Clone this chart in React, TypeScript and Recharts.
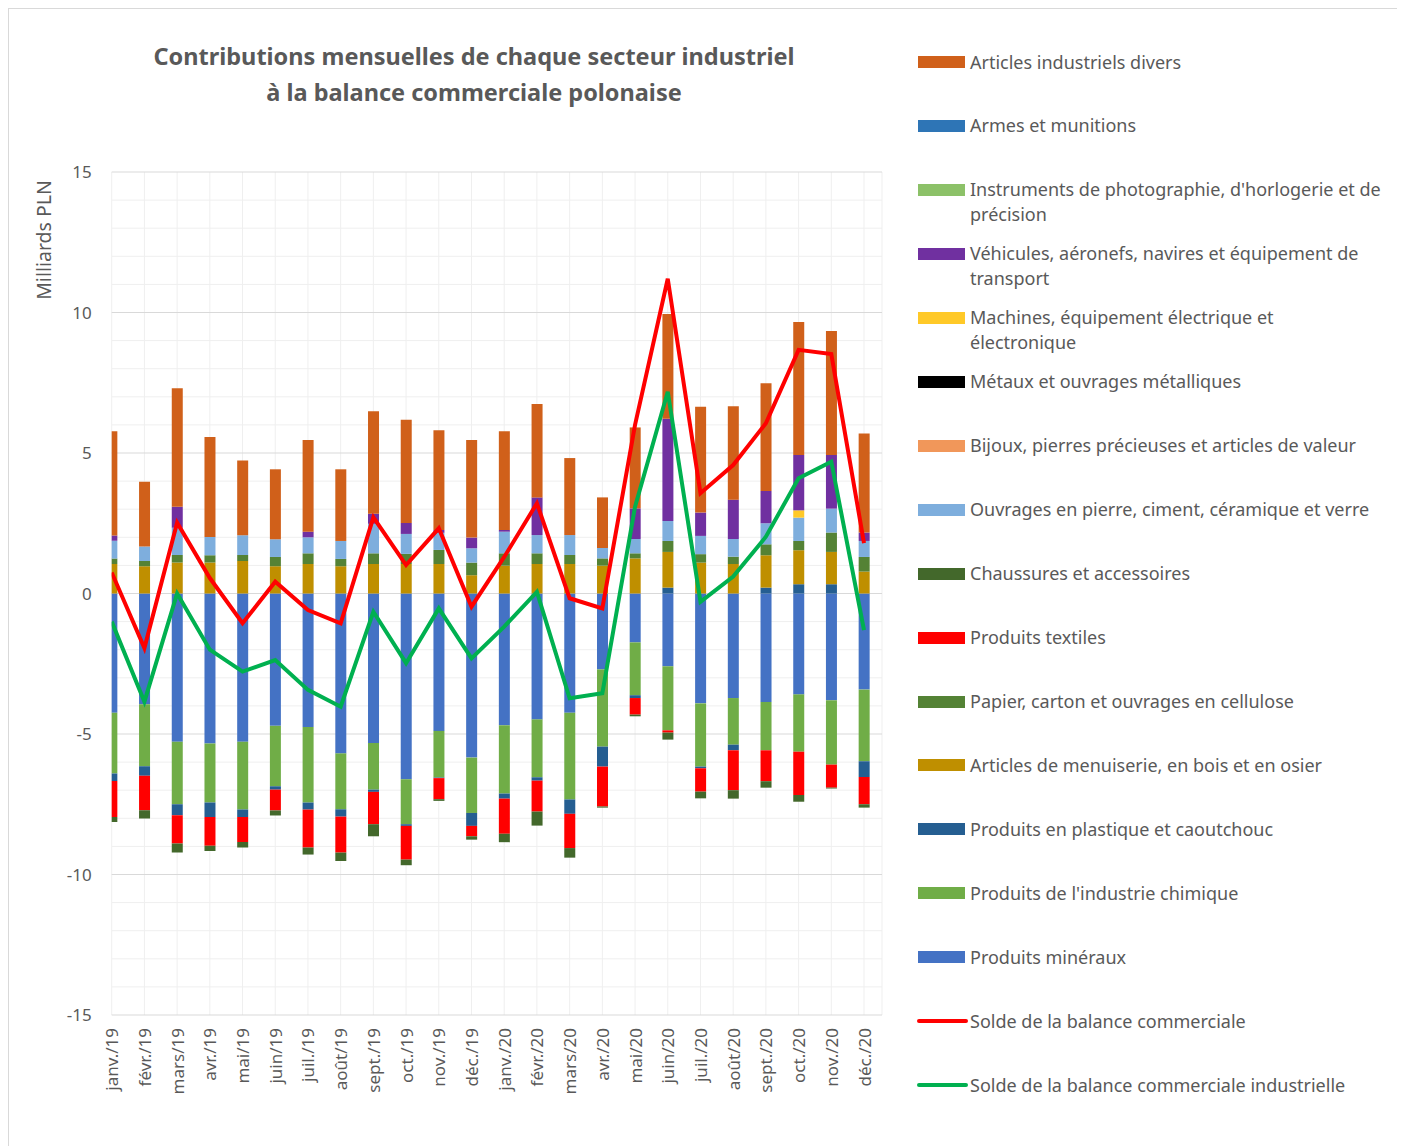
import React from 'react';
import { ComposedChart, Bar, Line, XAxis, YAxis, CartesianGrid } from 'recharts';

// Months shown on the category axis
const months = [
  'janv./19', 'févr./19', 'mars/19', 'avr./19', 'mai/19', 'juin/19',
  'juil./19', 'août/19', 'sept./19', 'oct./19', 'nov./19', 'déc./19',
  'janv./20', 'févr./20', 'mars/20', 'avr./20', 'mai/20', 'juin/20',
  'juil./20', 'août/20', 'sept./20', 'oct./20', 'nov./20', 'déc./20',
];

// Contributions by sector, bn PLN
const mineraux = [-4.24, -3.94, -5.28, -5.34, -5.28, -4.71, -4.75, -5.69, -5.32, -6.61, -4.89, -5.84, -4.69, -4.48, -4.24, -2.7, -1.74, -2.59, -3.91, -3.72, -3.86, -3.59, -3.8, -3.42];
const chimie = [-2.17, -2.21, -2.22, -2.1, -2.41, -2.15, -2.69, -1.99, -1.66, -1.6, -1.66, -1.97, -2.43, -2.06, -3.09, -2.75, -1.88, -2.28, -2.25, -1.66, -1.72, -2.04, -2.29, -2.55];
const plastique = [-0.26, -0.34, -0.39, -0.51, -0.26, -0.12, -0.25, -0.26, -0.08, -0.06, -0.02, -0.46, -0.18, -0.12, -0.51, -0.71, -0.1, 0.21, -0.06, -0.2, 0.21, 0.33, 0.33, -0.56];
const menuiserie = [1.05, 0.97, 1.1, 1.1, 1.16, 0.97, 1.05, 0.97, 1.05, 1.05, 1.05, 0.65, 0.99, 1.05, 1.05, 0.99, 1.25, 1.27, 1.1, 1.05, 1.15, 1.21, 1.15, 0.78];
const papier = [0.2, 0.19, 0.27, 0.26, 0.21, 0.33, 0.38, 0.26, 0.38, 0.36, 0.5, 0.45, 0.44, 0.38, 0.32, 0.26, 0.18, 0.39, 0.3, 0.26, 0.39, 0.33, 0.69, 0.52];
const textiles = [-1.28, -1.22, -1.01, -1.03, -0.89, -0.74, -1.35, -1.28, -1.15, -1.2, -0.75, -0.37, -1.25, -1.1, -1.22, -1.42, -0.59, -0.08, -0.83, -1.42, -1.1, -1.54, -0.82, -0.97];
const chaussures = [-0.18, -0.3, -0.32, -0.18, -0.2, -0.18, -0.25, -0.3, -0.43, -0.2, -0.06, -0.12, -0.3, -0.5, -0.34, -0.04, -0.06, -0.25, -0.24, -0.3, -0.23, -0.24, -0.03, -0.12];
const pierre = [0.63, 0.51, 0.97, 0.65, 0.7, 0.63, 0.57, 0.64, 1.05, 0.71, 0.61, 0.51, 0.77, 0.65, 0.71, 0.37, 0.51, 0.71, 0.65, 0.63, 0.75, 0.83, 0.85, 0.57];
const bijoux = [0, 0, 0, 0, 0, 0, 0, 0, 0, 0, 0, 0, 0, 0, 0, 0, 0, 0, 0, 0, 0, 0, 0, 0];
const metaux = [0, 0, 0, 0, 0, 0, 0, 0, 0, 0, 0, 0, 0, 0, 0, 0, 0, 0, 0, 0, 0, 0, 0, 0];
const machines = [0, 0, 0, 0, 0, 0, 0, 0, 0, 0, 0, 0, 0, 0, 0, 0, 0, 0, 0, 0, 0, 0.26, 0, 0];
const vehicules = [0.18, 0, 0.75, 0, 0, 0, 0.2, 0, 0.36, 0.39, 0.1, 0.38, 0.06, 1.34, 0, 0, 1.09, 3.64, 0.83, 1.4, 1.15, 1.97, 1.91, 0.3];
const instruments = [0, 0, 0, 0, 0, 0, 0, 0, 0, 0, 0, 0, 0, 0, 0, 0, 0, 0, 0, 0, 0, 0, 0, 0];
const armes = [0, 0, 0, 0, 0, 0, 0, 0, 0, 0, 0, 0, 0, 0, 0, 0, 0, 0, 0, 0, 0, 0, 0, 0];
const divers = [3.71, 2.31, 4.21, 3.56, 2.66, 2.49, 3.26, 2.55, 3.65, 3.67, 3.55, 3.47, 3.51, 3.32, 2.74, 1.8, 2.88, 3.73, 3.77, 3.32, 3.83, 4.73, 4.41, 3.52];

// Balances
const solde = [0.75, -1.94, 2.52, 0.55, -1.06, 0.42, -0.59, -1.06, 2.71, 1.01, 2.32, -0.47, 1.3, 3.21, -0.17, -0.53, 6.0, 11.2, 3.57, 4.57, 6.06, 8.67, 8.52, 1.79];
const soldeIndustriel = [-1.0, -3.85, 0.0, -2.0, -2.78, -2.37, -3.43, -4.03, -0.65, -2.48, -0.53, -2.31, -1.18, 0.06, -3.73, -3.55, 3.09, 7.18, -0.3, 0.6, 2.02, 4.1, 4.69, -1.3];

const yTicks = [-15, -10, -5, 0, 5, 10, 15];
const minorLines = Array.from({ length: 31 }, (_, i) => i - 15).filter(v => v % 5 !== 0);

// stack order: first entry sits next to zero
const barSeries = [
  { key: 'mineraux', name: 'Produits minéraux', color: '#4472c4', values: mineraux },
  { key: 'chimie', name: "Produits de l'industrie chimique", color: '#70ad47', values: chimie },
  { key: 'plastique', name: 'Produits en plastique et caoutchouc', color: '#255e91', values: plastique },
  { key: 'menuiserie', name: 'Articles de menuiserie, en bois et en osier', color: '#bf8f00', values: menuiserie },
  { key: 'papier', name: 'Papier, carton et ouvrages en cellulose', color: '#548235', values: papier },
  { key: 'textiles', name: 'Produits textiles', color: '#ff0000', values: textiles },
  { key: 'chaussures', name: 'Chaussures et accessoires', color: '#43682b', values: chaussures },
  { key: 'pierre', name: 'Ouvrages en pierre, ciment, céramique et verre', color: '#7eaedd', values: pierre },
  { key: 'bijoux', name: 'Bijoux, pierres précieuses et articles de valeur', color: '#f1975a', values: bijoux },
  { key: 'metaux', name: 'Métaux et ouvrages métalliques', color: '#000000', values: metaux },
  { key: 'machines', name: 'Machines, équipement électrique et électronique', color: '#ffc928', values: machines },
  { key: 'vehicules', name: 'Véhicules, aéronefs, navires et équipement de transport', color: '#7030a0', values: vehicules },
  { key: 'instruments', name: "Instruments de photographie, d'horlogerie et de précision", color: '#8cc168', values: instruments },
  { key: 'armes', name: 'Armes et munitions', color: '#2e75b6', values: armes },
  { key: 'divers', name: 'Articles industriels divers', color: '#d0601a', values: divers },
];

const lineSeries = [
  { key: 'solde', name: 'Solde de la balance commerciale', color: '#ff0000', values: solde },
  { key: 'soldeIndustriel', name: 'Solde de la balance commerciale industrielle', color: '#00b050', values: soldeIndustriel },
];

const data = months.map((month, i) => {
  const row: Record<string, number | string> = { idx: i, month };
  barSeries.forEach(s => { row[s.key] = s.values[i]; });
  lineSeries.forEach(s => { row[s.key] = s.values[i]; });
  return row;
});

const legendItems = [
  ...[...barSeries].reverse().map(s => ({ ...s, type: 'bar' })),
  ...lineSeries.map(s => ({ ...s, type: 'line' })),
];

const GREY = '#595959';

const MonthTick = ({ x, y, payload }: any) => (
  <text
    x={x}
    y={y}
    transform={`rotate(-90, ${x}, ${y})`}
    textAnchor="end"
    dominantBaseline="central"
    fill={GREY}
    fontSize={17}
  >
    {months[payload.value]}
  </text>
);

export default function App() {
  return (
    <div
      style={{
        position: 'relative',
        width: 1392,
        height: 1150,
        border: '1px solid #d9d9d9',
        boxSizing: 'border-box',
        fontFamily: '"Noto Sans", "Open Sans", sans-serif',
        color: GREY,
        background: '#fff',
      }}
    >
      <div
        style={{
          position: 'absolute',
          left: 0,
          top: 29,
          width: 930,
          textAlign: 'center',
          fontWeight: 700,
          fontSize: 23.5,
          lineHeight: '36px',
        }}
      >
        Contributions mensuelles de chaque secteur industriel
        <br />à la balance commerciale polonaise
      </div>

      <div
        style={{
          position: 'absolute',
          left: 34,
          top: 231,
          transform: 'translate(-50%, -50%) rotate(-90deg)',
          whiteSpace: 'nowrap',
          fontSize: 19.5,
        }}
      >
        Milliards PLN
      </div>

      <div style={{ position: 'absolute', left: 0, top: 0 }}>
        <ComposedChart
          width={900}
          height={1120}
          data={data}
          stackOffset="sign"
          margin={{ top: 163, right: 27, left: 42.7, bottom: 14 }}
        >
          <CartesianGrid horizontalValues={minorLines} stroke="#efefef" />
          <CartesianGrid horizontalValues={yTicks} vertical={false} stroke="#d9d9d9" />
          <XAxis
            type="number"
            dataKey="idx"
            domain={[0, 23.55]}
            allowDataOverflow
            ticks={months.map((_, i) => i)}
            interval={0}
            axisLine={false}
            tickLine={false}
            tickSize={6}
            tickMargin={7}
            height={100}
            tick={<MonthTick />}
          />
          <YAxis
            type="number"
            domain={[-15, 15]}
            ticks={yTicks}
            interval={0}
            width={60}
            axisLine={false}
            tickLine={false}
            tickSize={6}
            tickMargin={14}
            tick={{ fill: GREY, fontSize: 17 }}
          />
          {barSeries.map(s => (
            <Bar
              key={s.key}
              dataKey={s.key}
              name={s.name}
              stackId="a"
              fill={s.color}
              barSize={11}
              isAnimationActive={false}
            />
          ))}
          {lineSeries.map(s => (
            <Line
              key={s.key}
              type="linear"
              dataKey={s.key}
              name={s.name}
              stroke={s.color}
              strokeWidth={4}
              dot={false}
              activeDot={false}
              isAnimationActive={false}
            />
          ))}
        </ComposedChart>
      </div>

      {legendItems.map((item, i) => {
        const cy = 62 + i * 63.95 - 9;
        return (
          <div key={item.key}>
            {item.type === 'bar' ? (
              <div
                style={{
                  position: 'absolute',
                  left: 909,
                  top: cy - 6,
                  width: 47,
                  height: 12,
                  background: item.color,
                }}
              />
            ) : (
              <div
                style={{
                  position: 'absolute',
                  left: 908,
                  top: cy - 2,
                  width: 51,
                  height: 4,
                  borderRadius: 2,
                  background: item.color,
                }}
              />
            )}
            <div
              style={{
                position: 'absolute',
                left: 961,
                top: cy - 12.5,
                width: 412,
                fontSize: 18,
                lineHeight: '25px',
              }}
            >
              {item.name}
            </div>
          </div>
        );
      })}
    </div>
  );
}
